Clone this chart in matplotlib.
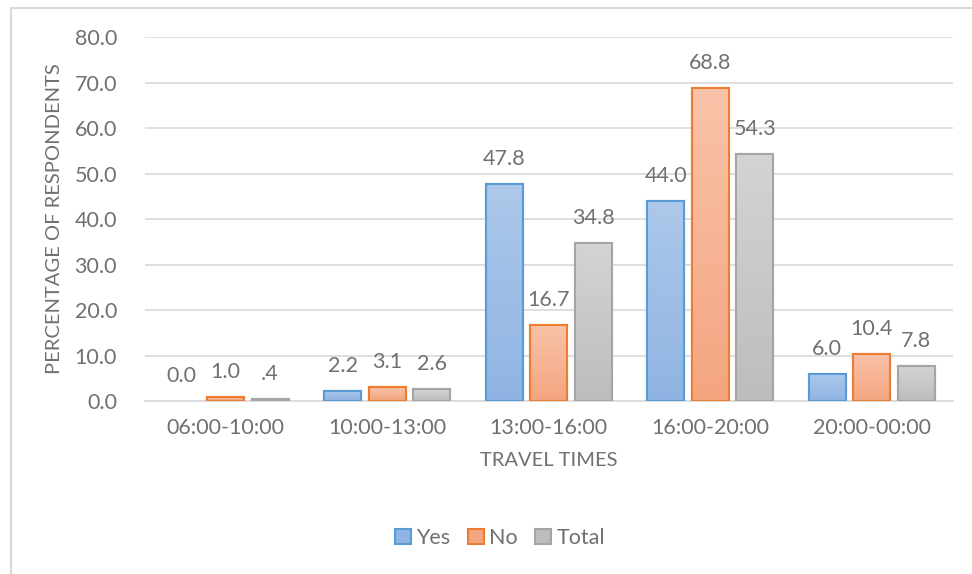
import matplotlib
matplotlib.use("Agg")
import matplotlib.pyplot as plt
import numpy as np
from matplotlib.patches import Rectangle
from matplotlib.colors import LinearSegmentedColormap

categories = ["06:00-10:00", "10:00-13:00", "13:00-16:00", "16:00-20:00", "20:00-00:00"]
yes_vals = [0.0, 2.2, 47.8, 44.0, 6.0]
no_vals = [1.0, 3.1, 16.7, 68.8, 10.4]
total_vals = [0.4, 2.6, 34.8, 54.3, 7.8]
yes_labels = ["0.0", "2.2", "47.8", "44.0", "6.0"]
no_labels = ["1.0", "3.1", "16.7", "68.8", "10.4"]
total_labels = [".4", "2.6", "34.8", "54.3", "7.8"]
series_names = ["Yes", "No", "Total"]

plt.rcParams['font.family'] = ['Lato', 'DejaVu Sans']
txt = "#707070"

fig = plt.figure(figsize=(9.72, 5.74), dpi=100)
ax = fig.add_axes([0.149, 0.301, 0.831, 0.6345])

# outer frame lines (left and top)
fig.add_artist(plt.Line2D([10.5/972, 10.5/972], [0, 1 - 8/574], color="#d9d9d9", lw=1.5, transform=fig.transFigure))
fig.add_artist(plt.Line2D([10.5/972, 1], [1 - 8/574, 1 - 8/574], color="#d9d9d9", lw=1.5, transform=fig.transFigure))

x = np.arange(len(categories))
w = 0.229
step = 0.275
styles = [
    ("#adc8ea", "#8fb4e3", "#5b9bd5"),
    ("#f9c3a9", "#f4a580", "#ed7d31"),
    ("#d4d4d4", "#bdbdbd", "#a5a5a5"),
]
data = [yes_vals, no_vals, total_vals]
labels = [yes_labels, no_labels, total_labels]

handles = []
for i, (vals, labs, (ctop, cbot, edge)) in enumerate(zip(data, labels, styles)):
    offs = (i - 1) * step
    bars = ax.bar(x + offs, vals, width=w, color=cbot, edgecolor=edge, linewidth=1.5, zorder=3)
    cmap = LinearSegmentedColormap.from_list("g%d" % i, [cbot, ctop])
    grad = np.linspace(0, 1, 256).reshape(-1, 1)
    for b in bars:
        h = b.get_height()
        if h <= 0:
            b.set_visible(False)
            continue
        bx = b.get_x()
        im = ax.imshow(grad, cmap=cmap, origin="lower", aspect="auto",
                       extent=[bx, bx + w, 0, h], zorder=3.5, interpolation="bilinear")
        im.set_clip_path(b)
        r = Rectangle((bx, 0), w, h, fill=False, edgecolor=edge, linewidth=1.5, zorder=4)
        ax.add_patch(r)
    for xi, v, lab in zip(x + offs, vals, labs):
        ax.annotate(lab, (xi, v), xytext=(0, 18), textcoords="offset points",
                    ha="center", va="center", color=txt, fontsize=15.5)
    handles.append(Rectangle((0, 0), 1, 1, facecolor=cbot, edgecolor=edge, linewidth=1.5))

ax.set_xlim(-0.5, len(categories) - 0.5)
ax.set_ylim(0, 80)
ax.set_yticks(np.arange(0, 81, 10))
ax.set_yticklabels(["%.1f" % v for v in np.arange(0, 81, 10)])
ax.set_xticks(x)
ax.set_xticklabels(categories)
ax.tick_params(axis="both", length=0, colors=txt, labelsize=15.5)
ax.tick_params(axis="y", pad=20)
ax.tick_params(axis="x", pad=12)
ax.grid(axis="y", color="#d9d9d9", lw=1.2, zorder=0)
for s in ["top", "right", "left"]:
    ax.spines[s].set_visible(False)
ax.spines["bottom"].set_color("#d9d9d9")
ax.spines["bottom"].set_linewidth(1.2)

ax.set_xlabel("TRAVEL TIMES", color=txt, fontsize=14.5, labelpad=10)
ax.set_ylabel("PERCENTAGE OF RESPONDENTS", color=txt, fontsize=14.5, labelpad=8)

fig.legend(handles, series_names, loc="center", bbox_to_anchor=(500/972, 1 - 538/574),
           ncol=3, frameon=False, fontsize=15.5, labelcolor=txt, handlelength=0.75,
           handleheight=0.75, handletextpad=0.25, columnspacing=0.8)

fig.savefig("out.png", dpi=100)
